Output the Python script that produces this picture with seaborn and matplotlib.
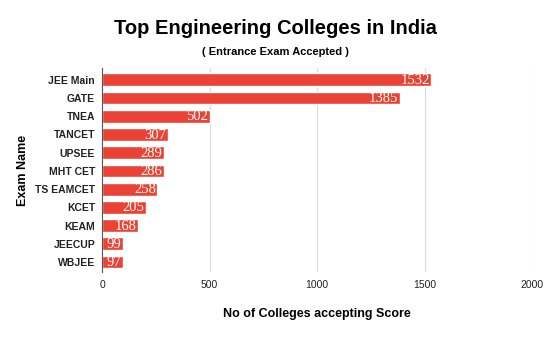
import pandas as pd
import seaborn as sns
import matplotlib.pyplot as plt

# data
exams = ["JEE Main", "GATE", "TNEA", "TANCET", "UPSEE", "MHT CET",
         "TS EAMCET", "KCET", "KEAM", "JEECUP", "WBJEE"]
colleges = [1532, 1385, 502, 307, 289, 286, 258, 205, 168, 99, 97]
x_ticks = [0, 500, 1000, 1500, 2000]

df = pd.DataFrame({"Exam Name": exams, "Colleges": colleges})

sns.set_style("white")
plt.rcParams["font.family"] = ["Liberation Sans", "DejaVu Sans"]
plt.rcParams["text.color"] = "black"
plt.rcParams["axes.labelcolor"] = "black"

fig = plt.figure(figsize = (5.5, 3.38), dpi = 100)
ax = fig.add_axes([0.1855, 0.195, 0.7818, 0.604])

sns.barplot(data = df,
            x = "Colleges",
            y = "Exam Name",
            orient = "h",
            color = "#ea4335",
            saturation = 1,
            width = 0.7,
            ax = ax)

# value labels inside bar ends
for i, v in enumerate(colleges):
    ax.text(v - 8, i + 0.03, str(v), ha = "right", va = "center",
            color = "white", fontsize = 10.5,
            family = ["Liberation Serif", "DejaVu Serif"])

ax.set_xlim(0, 2000)
ax.set_ylim(10.55, -0.65)
ax.set_xticks(x_ticks)
ax.set_xticklabels([str(t) for t in x_ticks], fontsize = 7.5, color = "#222222")
ax.tick_params(axis = "x", length = 0, pad = 6)
ax.tick_params(axis = "y", length = 0, pad = 5)
for lbl in ax.get_yticklabels():
    lbl.set_fontsize(7.5)
    lbl.set_fontweight("bold")
    lbl.set_color("#222222")

ax.grid(axis = "x", color = "#d9d9d9", linewidth = 0.8)
ax.set_axisbelow(True)
for s in ["top", "right", "bottom"]:
    ax.spines[s].set_visible(False)
ax.spines["left"].set_color("#555555")
ax.spines["left"].set_linewidth(0.8)

ax.set_xlabel("No of Colleges accepting Score", fontsize = 9,
              fontweight = "bold", labelpad = 13)
ax.set_ylabel("Exam Name", fontsize = 9, fontweight = "bold", labelpad = 4)

fig.text(0.5, 0.915, "Top Engineering Colleges in India", ha = "center",
         va = "center", fontsize = 14.5, fontweight = "bold")
fig.text(0.5, 0.845, "( Entrance Exam Accepted )", ha = "center",
         va = "center", fontsize = 8, fontweight = "bold")

plt.savefig("out.png", dpi = 100)
